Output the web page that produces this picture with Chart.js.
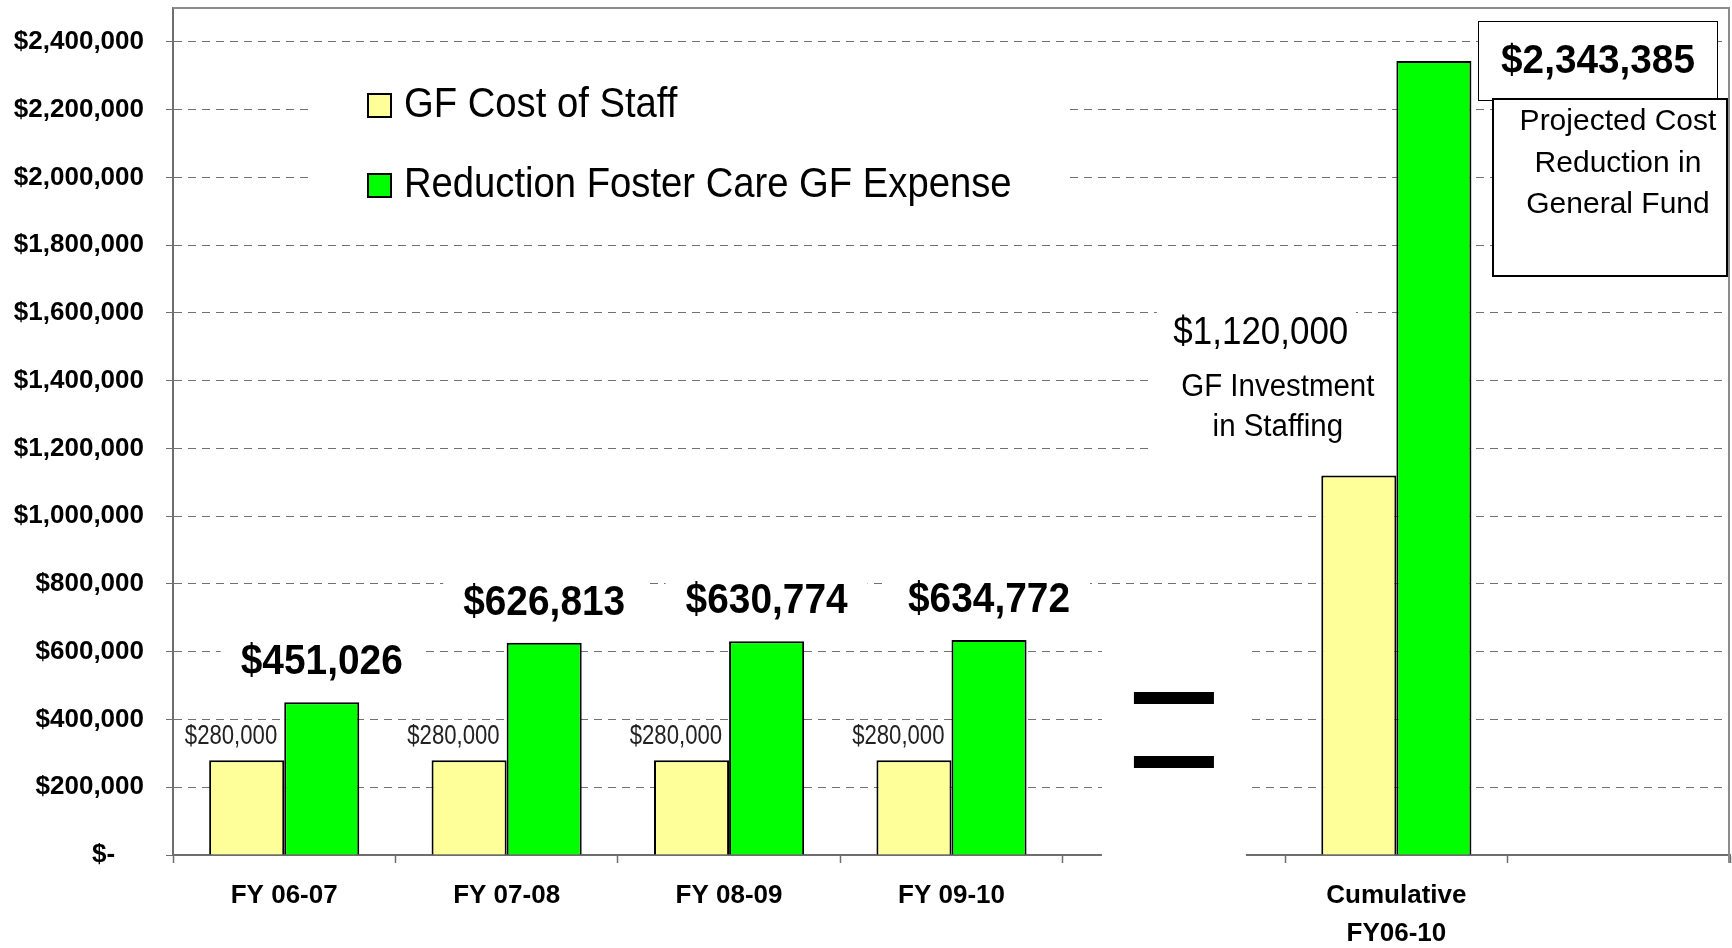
<!DOCTYPE html>
<html>
<head>
<meta charset="utf-8">
<script src="https://cdn.jsdelivr.net/npm/chart.js@4"></script>
<style>
  html, body { margin: 0; padding: 0; background: #fff; }
  #wrap { width: 1732px; height: 948px; }
</style>
</head>
<body>
<div id="wrap"><canvas id="c" width="1732" height="948"></canvas></div>
<script>
const categories = ['FY 06-07', 'FY 07-08', 'FY 08-09', 'FY 09-10', '', ['Cumulative', 'FY06-10'], ''];
const staffCost = [280000, 280000, 280000, 280000, null, 1120000, null];
const fosterReduction = [451026, 626813, 630774, 634772, null, 2343385, null];
const yTickValues = [0, 200000, 400000, 600000, 800000, 1000000, 1200000, 1400000, 1600000, 1800000, 2000000, 2200000, 2400000];
const seriesNames = ['GF Cost of Staff', 'Reduction Foster Care GF Expense'];
const investNote = ['GF Investment', 'in Staffing'];
const reductionNote = ['Projected Cost', 'Reduction in', 'General Fund'];

const FAM = '"Liberation Sans", Arial, Helvetica, sans-serif';
const YELLOW = '#FFFF99';
const GREEN = '#00FF00';
const cumIndex = 5;
const gapIndex = 4;

function money(v) { return '$' + Math.round(v).toLocaleString('en-US'); }

function drawText(ctx, text, x, y, font, sx, align, color) {
  ctx.save();
  ctx.font = font;
  ctx.fillStyle = color || '#000';
  ctx.textBaseline = 'alphabetic';
  ctx.textAlign = 'left';
  const w = ctx.measureText(text).width * sx;
  const left = align === 'center' ? x - w / 2 : (align === 'right' ? x - w : x);
  ctx.translate(left, y);
  ctx.scale(sx, 1);
  ctx.fillText(text, 0, 0);
  ctx.restore();
  return w;
}
function textWidth(ctx, text, font, sx) {
  ctx.save(); ctx.font = font; const w = ctx.measureText(text).width * sx; ctx.restore(); return w;
}

const BIG_FONT = 'bold 42px ' + FAM;
const BIG_SX = 0.925;

const decor = {
  id: 'decor',
  beforeDatasetsDraw(chart) {
    const ctx = chart.ctx;
    const ca = chart.chartArea;
    const xs = chart.scales.x;
    const m0 = chart.getDatasetMeta(0).data;
    const m1 = chart.getDatasetMeta(1).data;
    ctx.save();
    // plot area top and right border
    ctx.strokeStyle = '#8c8c8c';
    ctx.lineWidth = 2;
    ctx.beginPath();
    ctx.moveTo(ca.left, ca.top);
    ctx.lineTo(ca.right - 1, ca.top);
    ctx.lineTo(ca.right - 1, ca.bottom + 8);
    ctx.stroke();
    ctx.fillStyle = '#fff';
    // legend background
    ctx.fillRect(ca.left + 141, ca.top + 62, 751, 145);
    // "=" background
    const gx = xs.getPixelForValue(gapIndex);
    ctx.fillRect(gx - 72, ca.bottom - 245, 144, 262);
    // big label backgrounds
    for (let i = 0; i < 4; i++) {
      const el = m1[i];
      const w = textWidth(ctx, money(fosterReduction[i]), BIG_FONT, BIG_SX);
      ctx.fillRect(el.x - w / 2 - 20, el.y - 28 - 38, w + 40, 46);
    }
    // cumulative note backgrounds
    const ye = m0[cumIndex];
    ctx.fillRect(ye.x - 202, ye.y - 175, 199, 50);
    ctx.fillRect(ye.x - 210, ye.y - 120, 250, 110);
    ctx.restore();
  },
  afterDatasetsDraw(chart) {
    const ctx = chart.ctx;
    const ca = chart.chartArea;
    const xs = chart.scales.x;
    const ds = chart.data.datasets;
    const m0 = chart.getDatasetMeta(0).data;
    const m1 = chart.getDatasetMeta(1).data;
    ctx.save();

    // legend
    const legFont = '42px ' + FAM;
    const legY = [ca.top + 86, ca.top + 166];
    for (let k = 0; k < 2; k++) {
      const top = legY[k];
      ctx.fillStyle = ds[k].backgroundColor;
      ctx.fillRect(ca.left + 195, top, 23, 23);
      ctx.strokeStyle = '#000';
      ctx.lineWidth = 2;
      ctx.strokeRect(ca.left + 195, top, 23, 23);
      drawText(ctx, seriesNames[k], ca.left + 231, top + 23, legFont, 0.91, 'left', '#000');
    }

    // yearly labels
    for (let i = 0; i < 4; i++) {
      const ye = m0[i];
      const ge = m1[i];
      drawText(ctx, money(staffCost[i]), ye.x + ye.width / 2 - 7, ye.y - 16, '27px ' + FAM, 0.82, 'right', '#222');
      drawText(ctx, money(fosterReduction[i]), ge.x, ge.y - 28, BIG_FONT, BIG_SX, 'center', '#000');
    }

    // cumulative staff note
    const ye = m0[cumIndex];
    drawText(ctx, money(staffCost[cumIndex]), ye.x - 98, ye.y - 132, '38px ' + FAM, 0.92, 'center', '#000');
    drawText(ctx, investNote[0], ye.x - 81, ye.y - 80, '31px ' + FAM, 0.95, 'center', '#000');
    drawText(ctx, investNote[1], ye.x - 81, ye.y - 40, '31px ' + FAM, 0.95, 'center', '#000');

    // cumulative reduction boxes
    const b1x = ca.right - 252, b1y = ca.top + 13;
    ctx.fillStyle = '#fff';
    ctx.fillRect(b1x, b1y, 239, 79);
    ctx.strokeStyle = '#000';
    ctx.lineWidth = 1;
    ctx.strokeRect(b1x + 0.5, b1y + 0.5, 239, 79);
    drawText(ctx, money(fosterReduction[cumIndex]), b1x + 120, b1y + 52, 'bold 41px ' + FAM, 0.945, 'center', '#000');

    const b2x = ca.right - 237, b2y = ca.top + 91;
    ctx.fillStyle = '#fff';
    ctx.fillRect(b2x, b2y, 234, 177);
    ctx.lineWidth = 2;
    ctx.strokeRect(b2x, b2y, 234, 177);
    for (let j = 0; j < reductionNote.length; j++) {
      drawText(ctx, reductionNote[j], b2x + 125, b2y + 31 + j * 41.5, '30px ' + FAM, 1.0, 'center', '#000');
    }

    // "=" sign
    const gx = xs.getPixelForValue(gapIndex);
    ctx.fillStyle = '#000';
    ctx.fillRect(gx - 40, ca.bottom - 163, 80, 12);
    ctx.fillRect(gx - 40, ca.bottom - 99, 80, 12);
    ctx.restore();
  }
};

new Chart(document.getElementById('c'), {
  type: 'bar',
  data: {
    labels: categories,
    datasets: [
      { label: seriesNames[0], data: staffCost, backgroundColor: YELLOW, borderColor: '#000', borderWidth: 2,
        categoryPercentage: 0.675, barPercentage: 1.0 },
      { label: seriesNames[1], data: fosterReduction, backgroundColor: GREEN, borderColor: '#000', borderWidth: 2,
        categoryPercentage: 0.675, barPercentage: 1.0 }
    ]
  },
  options: {
    responsive: false,
    animation: false,
    devicePixelRatio: 1,
    layout: { padding: { top: 8, right: 2, left: 0, bottom: 0 } },
    plugins: { legend: { display: false }, tooltip: { enabled: false } },
    scales: {
      x: {
        offset: true,
        grid: { offset: true, drawOnChartArea: false, drawTicks: true, tickLength: 8, color: '#6e6e6e', tickWidth: 1.5 },
        border: { color: '#6e6e6e', width: 2 },
        ticks: { font: { family: FAM, size: 26, weight: 'bold', lineHeight: 1.46 }, color: '#000', padding: 14,
                 maxRotation: 0, minRotation: 0, autoSkip: false },
        afterFit(s) { s.height = 93; s.paddingLeft = 0; s.paddingRight = 0; }
      },
      y: {
        min: 0,
        max: 2500000,
        afterBuildTicks(s) { s.ticks = yTickValues.map(v => ({ value: v })); },
        grid: { color: '#707070', lineWidth: 1, tickLength: 7, tickColor: '#6e6e6e', tickBorderDash: [], drawTicks: true },
        border: { color: '#6e6e6e', width: 2, dash: [8, 6] },
        ticks: { font: { family: FAM, size: 26, weight: 'bold' }, color: '#000', padding: 22,
                 callback(v) { return v === 0 ? '$-    ' : money(v); } },
        afterFit(s) { s.width = 173; s.paddingTop = 0; s.paddingBottom = 0; }
      }
    }
  },
  plugins: [decor]
});
</script>
</body>
</html>
